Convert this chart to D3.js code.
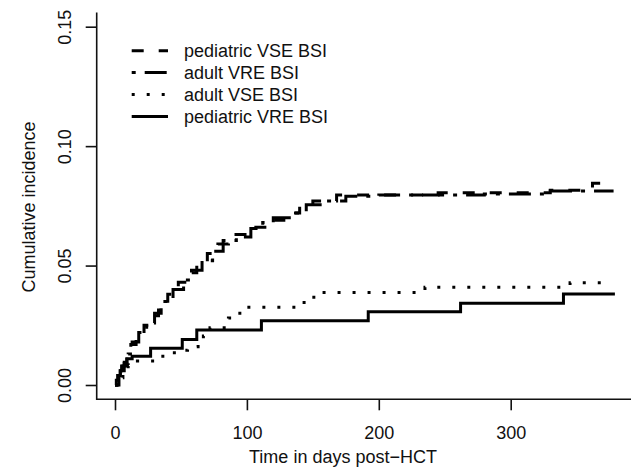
<!DOCTYPE html>
<html>
<head>
<meta charset="utf-8">
<script src="https://cdn.jsdelivr.net/npm/d3@7"></script>
<style>
  body { margin: 0; background: #fff; }
  text { font-family: "Liberation Sans", Arial, sans-serif; fill: #111; }
</style>
</head>
<body>
<div id="chart"></div>
<script>
var svgW = 631;
var svgH = 475;

// step curves (day, cumulative incidence)
var pedVseDays = [0, 3, 6, 9, 12, 16, 22, 28, 33, 40, 48, 55, 62, 70, 78, 86, 100, 115, 128, 140, 150, 168, 245, 330, 362, 372];
var pedVseVals = [0, .004, .008, .012, .017, .021, .025, .029, .034, .038, .043, .047, .051, .055, .059, .063, .066, .069, .072, .075, .077, .0795, .0805, .0815, .0845, .0845];

var adultVreDays = [0, 2, 4, 7, 10, 13, 18, 24, 30, 35, 44, 52, 58, 66, 74, 82, 92, 103, 112, 120, 135, 145, 158, 175, 200, 280, 330, 378];
var adultVreVals = [0, .003, .006, .009, .013, .018, .022, .026, .030, .035, .040, .044, .048, .052, .056, .0605, .062, .0655, .068, .070, .072, .0755, .077, .079, .0795, .080, .0812, .0812];

var adultVseDays = [0, 3, 6, 10, 17, 30, 45, 55, 63, 67, 72, 86, 93, 99, 140, 146, 152, 235, 345, 373];
var adultVseVals = [0, .003, .006, .008, .010, .012, .0145, .016, .018, .0205, .024, .028, .030, .0325, .0345, .0367, .0387, .0409, .0428, .0428];

var pedVreDays = [0, 1, 2, 4, 5, 7, 9, 13, 27, 51, 62, 111, 192, 262, 340, 379];
var pedVreVals = [0, .002, .004, .006, .008, .0095, .011, .012, .0154, .0191, .023, .0269, .0307, .0342, .0381, .0381];

var seriesNames = ["pediatric VSE BSI", "adult VRE BSI", "adult VSE BSI", "pediatric VRE BSI"];
var seriesDash = ["12,15", "4,9,22,9", "3,12", null];

var xTicks = [0, 100, 200, 300];
var yTicks = [0, 0.05, 0.10, 0.15];

var series = [
    seriesNames[0], seriesNames[1], seriesNames[2], seriesNames[3]
].map(function (name, i) {
    var days = [pedVseDays, adultVreDays, adultVseDays, pedVreDays][i];
    var vals = [pedVseVals, adultVreVals, adultVseVals, pedVreVals][i];
    return { name: name, dash: seriesDash[i], pts: days.map((d, j) => [d, vals[j]]) };
});

var svg = d3.select("#chart")
    .append("svg")
    .attr("width", svgW)
    .attr("height", svgH);

var xScale = d3.scaleLinear().domain([0, 300]).range([115, 510.7]);
var yScale = d3.scaleLinear().domain([0, 0.15]).range([385, 26.7]);

var axisX0 = 96.7, axisY0 = 399.3;

// L shaped frame
svg.append("path")
    .attr("d", `M${axisX0},12.4 V${axisY0} H${svgW}`)
    .attr("fill", "none")
    .attr("stroke", "#111")
    .attr("stroke-width", 1.6);

var bottomAxis = d3.axisBottom(xScale).tickValues(xTicks).tickSize(11).tickSizeOuter(0).tickPadding(16);
var gx = svg.append("g")
    .attr("transform", `translate(0, ${axisY0})`)
    .call(bottomAxis);
gx.select(".domain").remove();
gx.selectAll("line").attr("stroke", "#111").attr("stroke-width", 1.6);
gx.selectAll("text").attr("font-size", 18).attr("font-family", "Liberation Sans, Arial, sans-serif").attr("fill", "#111");

var leftAxis = d3.axisLeft(yScale).tickValues(yTicks).tickSize(11).tickSizeOuter(0).tickFormat(d3.format(".2f"));
var gy = svg.append("g")
    .attr("transform", `translate(${axisX0}, 0)`)
    .call(leftAxis);
gy.select(".domain").remove();
gy.selectAll("line").attr("stroke", "#111").attr("stroke-width", 1.6);
gy.selectAll("text")
    .attr("font-size", 18)
    .attr("font-family", "Liberation Sans, Arial, sans-serif")
    .attr("fill", "#111")
    .attr("x", null).attr("dy", null)
    .attr("text-anchor", "middle")
    .attr("transform", "translate(-26,0) rotate(-90)");

// axis titles
svg.append("text")
    .attr("x", 343)
    .attr("y", 463)
    .attr("text-anchor", "middle")
    .attr("font-size", 18)
    .text("Time in days post\u2212HCT");

svg.append("text")
    .attr("transform", "translate(35, 207) rotate(-90)")
    .attr("text-anchor", "middle")
    .attr("font-size", 18)
    .text("Cumulative incidence");

// curves
var line = d3.line()
    .x(d => xScale(d[0]))
    .y(d => yScale(d[1]))
    .curve(d3.curveStepAfter);

series.forEach(function (s) {
    svg.append("path")
        .attr("d", line(s.pts))
        .attr("fill", "none")
        .attr("stroke", "#000")
        .attr("stroke-width", 3)
        .attr("stroke-dasharray", s.dash);
});

// legend
var legY = [50.7, 72.6, 94.5, 116.4];
series.forEach(function (s, i) {
    svg.append("line")
        .attr("x1", 131.7).attr("x2", 168)
        .attr("y1", legY[i]).attr("y2", legY[i])
        .attr("stroke", "#000")
        .attr("stroke-width", 3)
        .attr("stroke-dasharray", s.dash);
    svg.append("text")
        .attr("x", 184)
        .attr("y", legY[i] + 6.3)
        .attr("font-size", 18)
        .text(s.name);
});
</script>
</body>
</html>
